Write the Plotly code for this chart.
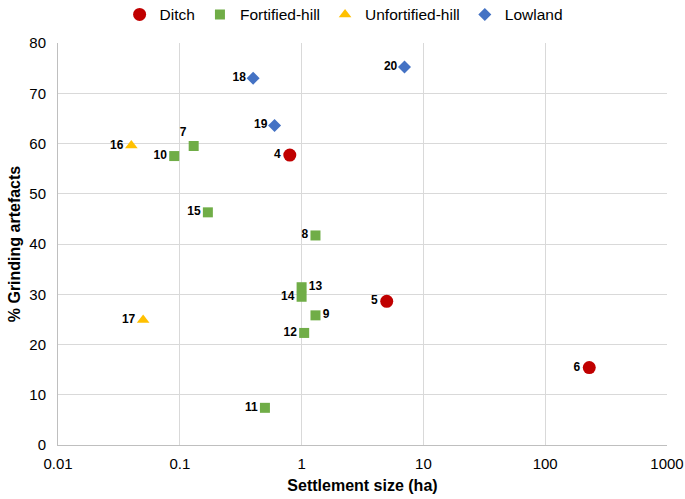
import plotly.graph_objects as go

# Data
ditch_ids = ["4", "5", "6"]
ditch_size = [0.8, 5.0, 230]
ditch_pct = [57.7, 28.6, 15.4]

fort_ids = ["7", "8", "9", "10", "11", "12", "13", "14", "15"]
fort_size = [0.13, 1.3, 1.3, 0.09, 0.5, 1.05, 1.0, 1.0, 0.17]
fort_pct = [59.5, 41.7, 25.8, 57.5, 7.4, 22.3, 31.4, 29.5, 46.3]

unfort_ids = ["16", "17"]
unfort_size = [0.04, 0.05]
unfort_pct = [59.6, 24.9]

low_ids = ["18", "19", "20"]
low_size = [0.4, 0.6, 7.0]
low_pct = [73.0, 63.6, 75.2]

x_tickvals = [0.01, 0.1, 1, 10, 100, 1000]
x_ticktext = ["0.01", "0.1", "1", "10", "100", "1000"]

# label placement (style only)
label_pos = {"7": "top left", "9": "middle right", "13": "middle right"}

label_font = dict(family="Liberation Sans", size=12, color="#000000")

fig = go.Figure()

def add(name, xs, ys, ids, symbol, color, size):
    fig.add_trace(go.Scatter(
        x=xs, y=ys, mode="markers+text", name=name,
        text=["<b>%s</b>" % t for t in ids],
        textposition=[label_pos.get(t, "middle left") for t in ids],
        textfont=label_font,
        marker=dict(symbol=symbol, color=color, size=size, line=dict(width=0)),
    ))

add("Ditch", ditch_size, ditch_pct, ditch_ids, "circle", "#C00000", 13)
add("Fortified-hill", fort_size, fort_pct, fort_ids, "square", "#70AD47", 10)
add("Unfortified-hill", unfort_size, unfort_pct, unfort_ids, "triangle-up", "#FFC000", 11)
add("Lowland", low_size, low_pct, low_ids, "diamond", "#4472C4", 10)

fig.update_layout(
    width=685, height=499,
    margin=dict(l=58, r=18, t=43, b=54, autoexpand=False),
    paper_bgcolor="white", plot_bgcolor="white",
    font=dict(family="Liberation Sans", size=15, color="#000000"),
    legend=dict(orientation="h", x=0.469, xanchor="center", y=1.07, yanchor="middle",
                font=dict(size=15.5), itemwidth=30, traceorder="normal",
                bgcolor="rgba(0,0,0,0)"),
    xaxis=dict(
        type="log", range=[-2, 3], tickvals=x_tickvals, ticktext=x_ticktext,
        showgrid=True, gridcolor="#D9D9D9", gridwidth=1, automargin=False,
        showline=True, linecolor="#BFBFBF", linewidth=1, zeroline=False,
        ticks="", tickfont=dict(size=15, color="#000000"),
        ticklabeloverflow="allow", ticklabelstandoff=5,
        title=dict(text="<b>Settlement size (ha)</b>", font=dict(size=16), standoff=8),
    ),
    yaxis=dict(
        range=[0, 80], dtick=10, automargin=False,
        showgrid=True, gridcolor="#D9D9D9", gridwidth=1,
        showline=True, linecolor="#BFBFBF", linewidth=1, zeroline=False,
        ticks="", tickfont=dict(size=15, color="#000000"),
        ticklabeloverflow="allow", ticklabelstandoff=8,
        title=dict(text="<b>% Grinding artefacts</b>", font=dict(size=16), standoff=4),
    ),
)

fig.write_html("out.html", config={"displayModeBar": False},
               post_script="document.body.style.margin='0px';")
